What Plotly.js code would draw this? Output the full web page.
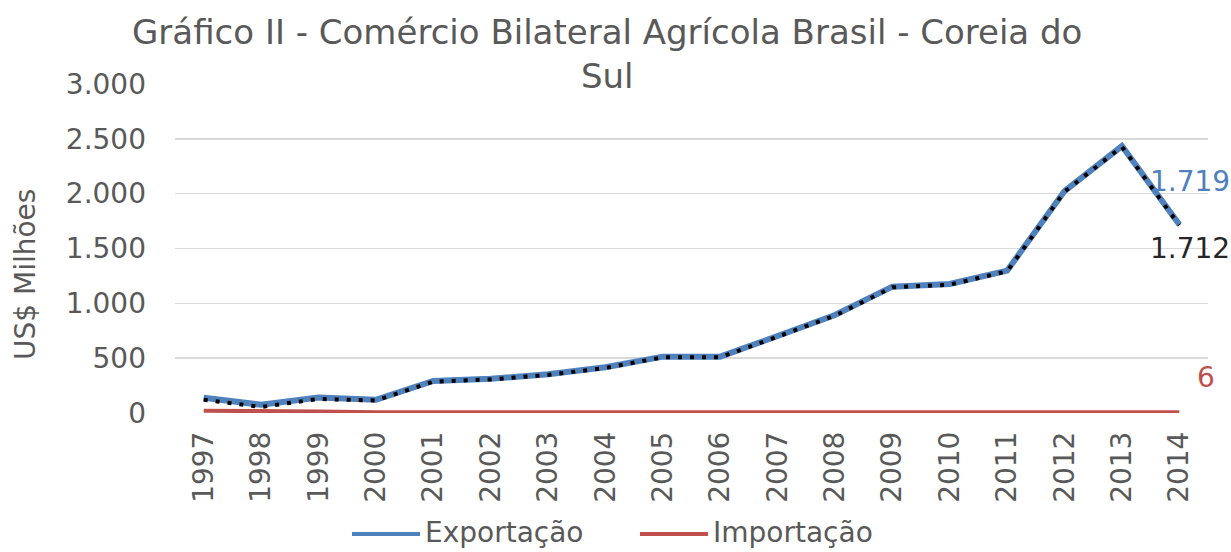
<!DOCTYPE html>
<html>
<head>
<meta charset="utf-8">
<script src="https://cdn.plot.ly/plotly-3.0.1.min.js"></script>
<style>html,body{margin:0;padding:0;background:#fff;}#chart{width:1231px;height:552px;}</style>
</head>
<body>
<div id="chart"></div>
<script>
const years = ['1997','1998','1999','2000','2001','2002','2003','2004','2005','2006','2007','2008','2009','2010','2011','2012','2013','2014'];
const exportacao = [140, 75, 142, 120, 292, 312, 353, 417, 514, 514, 702, 894, 1152, 1176, 1298, 2024, 2434, 1719];
const importacao = [20, 20, 14, 6, 6, 6, 6, 6, 6, 6, 6, 6, 6, 6, 6, 6, 6, 6];
const saldo = [120, 55, 128, 114, 286, 306, 347, 411, 508, 508, 696, 888, 1146, 1170, 1292, 2018, 2428, 1712];
const yTicks = [0, 500, 1000, 1500, 2000, 2500, 3000];
const yTickText = ['0', '500', '1.000', '1.500', '2.000', '2.500', '3.000'];
const lastLabels = {exportacao: '1.719', saldo: '1.712', importacao: '6'};
const seriesNames = ['Exportação', 'Importação'];

const FONT = 'DejaVu Sans, Liberation Sans, Arial, sans-serif';
const GREY = '#595959';
const BLUE = '#4F81BD';
const RED = '#C0504D';
const FS = 28;
const last = years.length - 1;

// plot-area geometry helpers (pixels -> paper)
const L = 175, R = 23, T = 84, B = 139, W = 1231, H = 552;
const pw = W - L - R, ph = H - T - B;
const px = v => (v - L) / pw;
const py = v => (H - B - v) / ph;

const traces = [
  {x: years, y: exportacao, name: seriesNames[0], type: 'scatter', mode: 'lines',
   line: {color: BLUE, width: 6}, showlegend: false},
  {x: years, y: importacao, name: seriesNames[1], type: 'scatter', mode: 'lines',
   line: {color: RED, width: 4}, showlegend: false},
  {x: years, y: saldo, name: 'Saldo', type: 'scatter', mode: 'lines', showlegend: false,
   line: {color: '#000000', width: 4, dash: '4px,8px'}}
];

const legendY = 532;
const layout = {
  width: W, height: H,
  margin: {l: L, r: R, t: T, b: B},
  paper_bgcolor: '#fff', plot_bgcolor: '#fff',
  font: {family: FONT, color: GREY, size: FS},
  xaxis: {type: 'category', range: [-0.5, 17.5], tickangle: -90, showgrid: false, zeroline: false,
          showline: false, ticks: '', ticklabelstandoff: 12,
          tickfont: {family: FONT, size: FS, color: GREY}},
  yaxis: {range: [0, 3000], tickvals: yTicks, ticktext: yTickText, showgrid: true,
          gridcolor: '#D9D9D9', gridwidth: 1.5, zeroline: false, showline: false, ticks: '',
          ticklabelstandoff: 28,
          tickfont: {family: FONT, size: FS, color: GREY}},
  showlegend: false,
  shapes: [
    {type: 'line', xref: 'paper', yref: 'paper', x0: px(352), x1: px(420), y0: py(534), y1: py(534),
     line: {color: BLUE, width: 4}},
    {type: 'line', xref: 'paper', yref: 'paper', x0: px(640), x1: px(708), y0: py(534), y1: py(534),
     line: {color: RED, width: 4}}
  ],
  annotations: [
    {xref: 'paper', yref: 'paper', x: px(607), y: py(10), xanchor: 'center', yanchor: 'top',
     text: 'Gráfico II - Comércio Bilateral Agrícola Brasil - Coreia do<br>Sul', showarrow: false,
     font: {family: FONT, size: 34, color: GREY}},
    {xref: 'paper', yref: 'paper', x: px(25), y: py(275), xanchor: 'center', yanchor: 'middle',
     textangle: -90, text: 'US$ Milhões', showarrow: false, font: {family: FONT, size: FS, color: GREY}},
    {xref: 'paper', yref: 'paper', x: px(423), y: py(legendY), xanchor: 'left', yanchor: 'middle',
     text: seriesNames[0], showarrow: false, font: {family: FONT, size: FS, color: GREY}},
    {xref: 'paper', yref: 'paper', x: px(711), y: py(legendY), xanchor: 'left', yanchor: 'middle',
     text: seriesNames[1], showarrow: false, font: {family: FONT, size: FS, color: GREY}},
    {x: last, y: exportacao[last], text: lastLabels.exportacao, showarrow: false,
     xshift: 11, yshift: 43, font: {family: FONT, size: FS, color: BLUE}},
    {x: last, y: saldo[last], text: lastLabels.saldo, showarrow: false,
     xshift: 11, yshift: -23, font: {family: FONT, size: FS, color: '#262626'}},
    {x: last, y: importacao[last], text: lastLabels.importacao, showarrow: false,
     xshift: 27, yshift: 35, font: {family: FONT, size: FS, color: RED}}
  ]
};

Plotly.newPlot('chart', traces, layout, {displayModeBar: false, staticPlot: true});
</script>
</body>
</html>
